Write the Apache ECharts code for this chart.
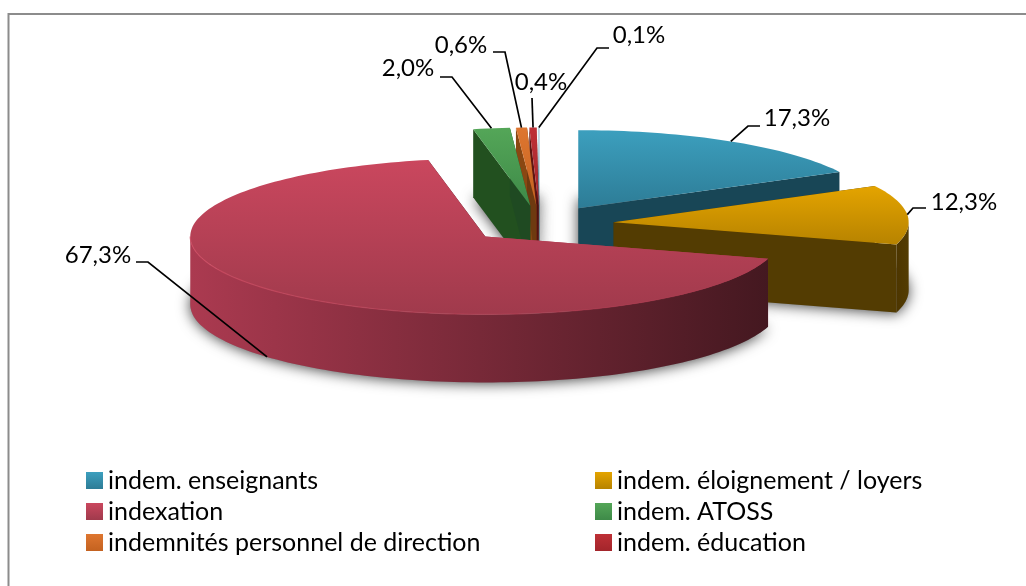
<!DOCTYPE html>
<html><head><meta charset="utf-8">
<style>html,body{margin:0;padding:0;background:#fff}#c{width:1026px;height:586px}</style>
<script src="https://cdn.jsdelivr.net/npm/echarts@6/dist/echarts.min.js"></script>
</head><body><div id="c"></div>
<script>
// ---- data ----
const sliceNames = ['indem. enseignants','indem. éloignement / loyers','indexation','indem. ATOSS','indemnités personnel de direction','indem. éducation','autre'];
const sliceValues = [17.3,12.3,67.3,2.0,0.6,0.4,0.1];
const legendLeft = ['indem. enseignants','indexation','indemnités personnel de direction'];
const legendRight = ['indem. éloignement / loyers','indem. ATOSS','indem. éducation'];

// ---- styles and layout ----
const topColors = [['#3c9fbe','#2d7c96'],['#e4a400','#b78300'],['#ca475e','#a03a4c'],['#54a658','#3e8a48'],['#de7630','#c46220'],['#be3036','#a3252b'],['#bcd4df','#a3c2d0']];
const wallColors = [['#173f4d','#184656'],['#4d3600','#533c02'],['#ab3a50','#441820'],['#22501f','#1f4a22'],['#8a4712','#6e3a10'],['#5e1512','#4e1210'],['#6a8a98','#5a7a88']];
const CX = 540, CY = 224, RX = 295, RY = 78, DEPTH = 68, EX = 74, EY = 18.5;
const LABEL_FONT = '24px Lato';
// text anchor [x,y], elbow start, elbow bend, for each slice
const labelLayout = [
  {t:[797,118],a:[760,126],b:[748,126]},
  {t:[964,202],a:[926,208],b:[913,208]},
  {t:[98,255], a:[136,262],b:[148,262]},
  {t:[408,68], a:[440,77], b:[452,77]},
  {t:[461,45], a:[493,52], b:[505,52]},
  {t:[541,82], a:[532,98], b:[532,98]},
  {t:[639,35], a:[609,48], b:[597,48]}
];
const paintOrder = [6,5,4,3,0,1,2];

// ---- geometry derived from the values ----
const total = sliceValues.reduce((s,v)=>s+v,0);
function angles(i){
  let before = 0;
  for (let k=0;k<i;k++) before += sliceValues[k];
  const a0 = before/total*360, a1 = (before+sliceValues[i])/total*360;
  return {a0,a1,mid:(a0+a1)/2};
}
const rad = d=>d*Math.PI/180;
function apex(i){
  const m = rad(angles(i).mid);
  return [CX+EX*Math.sin(m), CY-EY*Math.cos(m)];
}
function rim(i,deg){
  const p = apex(i), r = rad(deg);
  return [p[0]+RX*Math.sin(r), p[1]-RY*Math.cos(r)];
}
function arcBetween(i,a0,a1){
  const n = Math.max(2,Math.ceil((a1-a0)/1.5)), out=[];
  for (let k=0;k<=n;k++) out.push(rim(i,a0+(a1-a0)*k/n));
  return out;
}
function arc(i){ const {a0,a1} = angles(i); return arcBetween(i,a0,a1); }
const down = p=>[p[0],p[1]+DEPTH];
const poly = (points,style)=>({type:'polygon',shape:{points},style,silent:true});
const hGrad = (c0,c1)=>({type:'linear',x:0,y:0,x2:1,y2:0,colorStops:[{offset:0,color:c0},{offset:1,color:c1}]});
const vGrad = (c0,c1)=>({type:'linear',x:0,y:0,x2:0,y2:1,colorStops:[{offset:0,color:c0},{offset:1,color:c1}]});

function renderShadow(params,api){
  const i = api.value(0), a = arc(i), p = apex(i);
  return {type:'group',children:[poly([p].concat(a).map(down),{fill:'#888',shadowBlur:14,shadowColor:'rgba(0,0,0,0.75)',shadowOffsetY:1})]};
}
function renderSlice(params,api){
  const i = api.value(0), a = arc(i), p = apex(i), wc = wallColors[i], tc = topColors[i];
  const {a0,a1} = angles(i);
  const first = a[0], last = a[a.length-1], kids = [];
  kids.push(poly([p,first,down(first),down(p)],{fill:wc[0]}));
  kids.push(poly([p,last,down(last),down(p)],{fill:wc[1]}));
  const f0 = Math.max(a0,90), f1 = Math.min(a1,270);
  if (f1>f0){
    const front = arcBetween(i,f0,f1);
    kids.push(poly(front.concat(front.slice().reverse().map(down)),{fill:hGrad(wc[0],wc[1])}));
  }
  kids.push(poly([p].concat(a),{fill:vGrad(tc[0],tc[1])}));
  if (f1>f0 && f1-f0>90){
    kids.push({type:'polyline',shape:{points:arcBetween(i,f0,f1)},silent:true,
      style:{fill:null,lineWidth:1.2,stroke:hGrad(tc[0]+'d9',tc[0]+'00')}});
  }
  return {type:'group',children:kids};
}
function pctText(v){ return v.toFixed(1).replace('.',',')+'%'; }
function renderLabel(params,api){
  const i = api.value(0), L = labelLayout[i], m = angles(i).mid;
  let end = rim(i,m);
  if (Math.cos(rad(m))<0 && Math.abs(Math.sin(rad(m)))<0.9) end = down(end);
  return {type:'group',children:[
    {type:'polyline',shape:{points:[L.a,L.b,end]},style:{stroke:'#000',lineWidth:1.7,fill:null},silent:true},
    {type:'text',style:{text:pctText(api.value(1)),x:L.t[0],y:L.t[1],fill:'#000',font:LABEL_FONT,textAlign:'center',textVerticalAlign:'middle'},silent:true}
  ]};
}
const sliceIndex = sliceValues.map((v,i)=>[i,v]);
const series = [{type:'custom',name:'ombre',coordinateSystem:'none',silent:true,renderItem:renderShadow,data:sliceIndex}];
paintOrder.forEach(i=>series.push({type:'custom',name:sliceNames[i],coordinateSystem:'none',silent:true,renderItem:renderSlice,data:[sliceIndex[i]],itemStyle:{color:topColors[i][0]}}));
series.push({type:'custom',name:'étiquettes',coordinateSystem:'none',silent:true,renderItem:renderLabel,data:sliceIndex});

const legendItem = n=>{
  const i = sliceNames.indexOf(n);
  return {name:n,icon:'rect',itemStyle:{color:vGrad(topColors[i][0],topColors[i][1])}};
};
const legendBase = {orient:'vertical',itemWidth:17,itemHeight:17,itemGap:6,selectedMode:false,padding:0,
  textStyle:{fontFamily:'Lato',fontSize:25,color:'#000',lineHeight:24,padding:[0,0,0,0]}};

const chart = echarts.init(document.getElementById('c'),null,{renderer:'canvas'});
chart.setOption({
  animation:false,
  backgroundColor:'#fff',
  legend:[
    Object.assign({},legendBase,{left:86,top:468,data:legendLeft.map(legendItem)}),
    Object.assign({},legendBase,{left:595,top:468,data:legendRight.map(legendItem)})
  ],
  graphic:[{type:'polyline',z:-10,silent:true,shape:{points:[[8.5,586],[8.5,14],[1026,14]]},style:{stroke:'#8c8c8c',fill:null,lineWidth:2}}],
  series
});
</script></body></html>
